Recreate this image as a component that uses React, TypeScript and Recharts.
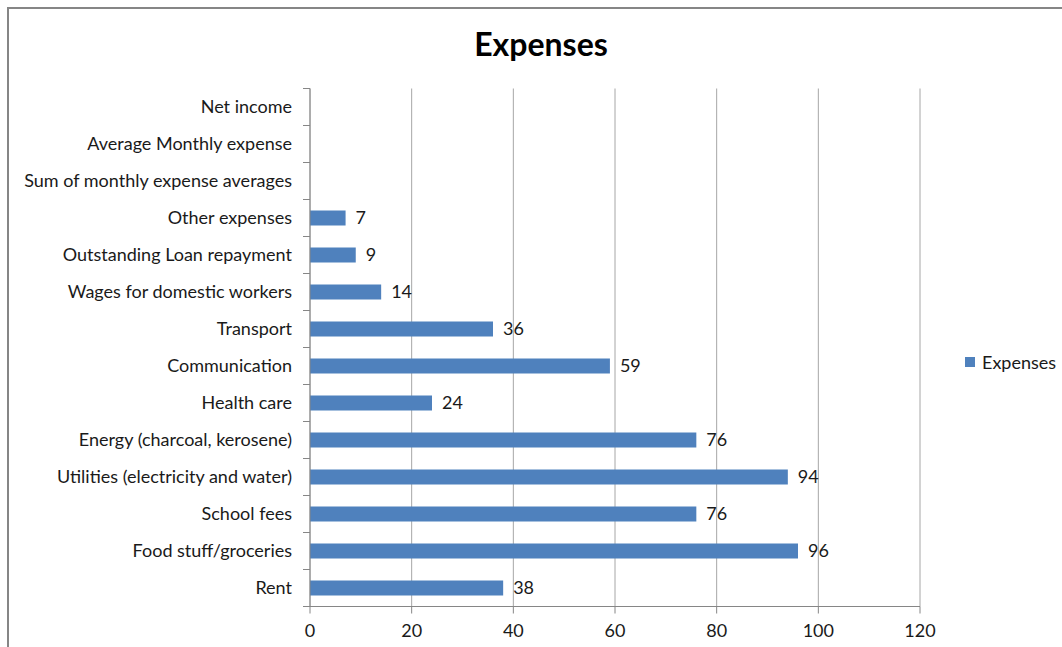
import { BarChart, Bar, XAxis, YAxis, CartesianGrid, LabelList } from 'recharts'

const CATEGORIES = [
  'Net income',
  'Average Monthly expense',
  'Sum of monthly expense averages',
  'Other expenses',
  'Outstanding Loan repayment',
  'Wages for domestic workers',
  'Transport',
  'Communication',
  'Health care',
  'Energy (charcoal, kerosene)',
  'Utilities (electricity and water)',
  'School fees',
  'Food stuff/groceries',
  'Rent',
]
const EXPENSES: (number | null)[] = [null, null, null, 7, 9, 14, 36, 59, 24, 76, 94, 76, 96, 38]
const X_TICKS = [0, 20, 40, 60, 80, 100, 120]
const SERIES_NAME = 'Expenses'

const data = CATEGORIES.map((name, i) => ({ name, value: EXPENSES[i] }))

const FONT = 'Lato, "Open Sans", sans-serif'
const BAR = '#4F81BD'
const AXIS = '#868686'
const GRID = '#A6A6A6'
const TEXT = '#1a1a1a'

// excel puts category ticks on band edges, not centres
const HALF_BAND = (606.5 - 88.5) / CATEGORIES.length / 2

function CategoryTick(props: any) {
  const { x, y, payload, index } = props
  const last = index === CATEGORIES.length - 1
  return (
    <g>
      <line x1={x + 1} x2={x + 8} y1={y - HALF_BAND} y2={y - HALF_BAND} stroke={AXIS} />
      {last && <line x1={x + 1} x2={x + 8} y1={y + HALF_BAND} y2={y + HALF_BAND} stroke={AXIS} />}
      <text x={x - 10} y={y} dy={6} textAnchor="end" fontSize={18} fill={TEXT} fontFamily={FONT}>
        {payload.value}
      </text>
    </g>
  )
}

export default function App() {
  return (
    <div style={{ position: 'absolute', left: 0, top: 0, width: 1062, height: 647, background: '#fff', overflow: 'hidden', fontFamily: FONT }}>
      <div
        style={{
          position: 'absolute',
          left: 7,
          top: 7,
          width: 1100,
          height: 700,
          borderLeft: `2px solid ${AXIS}`,
          borderTop: `2px solid ${AXIS}`,
        }}
      />
      <div
        style={{
          position: 'absolute',
          left: 0,
          width: 1082,
          top: 24,
          textAlign: 'center',
          fontSize: 32,
          fontWeight: 700,
          color: '#000',
        }}
      >
        Expenses
      </div>
      <div style={{ position: 'absolute', left: 965, top: 351, display: 'flex', alignItems: 'center', fontSize: 18, color: TEXT }}>
        <span style={{ display: 'inline-block', width: 10, height: 10, background: BAR, marginRight: 7 }} />
        {SERIES_NAME}
      </div>
      <BarChart
        width={1062}
        height={647}
        data={data}
        layout="vertical"
        margin={{ top: 88.5, right: 142, bottom: 10.5, left: 0 }}
        barCategoryGap="30%"
        style={{ position: 'absolute', left: 0, top: 0 }}
      >
        <CartesianGrid horizontal={false} stroke={GRID} />
        <XAxis
          type="number"
          domain={[0, 120]}
          ticks={X_TICKS}
          interval={0}
          stroke={AXIS}
          tickSize={7}
          height={30}
          tick={{ fontSize: 18, fill: TEXT, fontFamily: FONT }}
          tickMargin={11}
        />
        <YAxis
          type="category"
          dataKey="name"
          width={310}
          interval={0}
          stroke={AXIS}
          tickLine={false}
          tick={<CategoryTick />}
        />
        <Bar dataKey="value" name={SERIES_NAME} fill={BAR} isAnimationActive={false}>
          <LabelList dataKey="value" position="right" offset={10} fontSize={18} fill={TEXT} fontFamily={FONT} />
        </Bar>
      </BarChart>
    </div>
  )
}
